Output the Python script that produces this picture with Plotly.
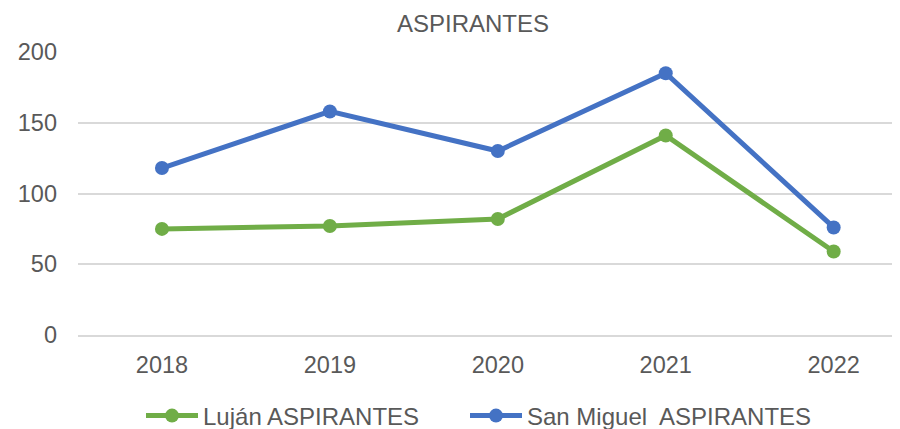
import plotly.graph_objects as go

years = ["2018", "2019", "2020", "2021", "2022"]
lujan = [75, 77, 82, 141, 59]
san_miguel = [118, 158, 130, 185, 76]
y_ticks = [0, 50, 100, 150, 200]

text_color = "#595959"
font_family = "Liberation Sans, Arial, sans-serif"
OFF = 8  # page body margin offset
W, H = 900 - OFF, 429 - OFF

fig = go.Figure()
fig.add_trace(go.Scatter(
    x=years, y=lujan, name="Luján ASPIRANTES", mode="lines+markers",
    line=dict(color="#70AD47", width=5),
    marker=dict(color="#70AD47", size=14),
    legend="legend",
))
fig.add_trace(go.Scatter(
    x=years, y=san_miguel, name="San Miguel  ASPIRANTES", mode="lines+markers",
    line=dict(color="#4472C4", width=5),
    marker=dict(color="#4472C4", size=14),
    legend="legend2",
))

legend_common = dict(orientation="h", xref="container", xanchor="left",
                     y=1 - (416 - OFF) / H, yref="container", yanchor="middle",
                     font=dict(size=24, color=text_color, family=font_family),
                     itemwidth=52, bgcolor="rgba(0,0,0,0)")

fig.update_layout(
    width=W, height=H,
    margin=dict(l=78 - OFF, r=0, t=52 - OFF, b=H - (335 - OFF), autoexpand=False),
    paper_bgcolor="white", plot_bgcolor="white",
    font=dict(family=font_family, size=23.5, color=text_color),
    title=dict(text="ASPIRANTES", x=(473 - OFF) / W, xref="container", xanchor="center",
               y=1 - (24 - OFF) / H, yref="container", yanchor="middle",
               font=dict(size=24, color=text_color)),
    legend=dict(x=(141 - OFF) / W, **legend_common),
    legend2=dict(x=(465 - OFF) / W, **legend_common),
    showlegend=True,
)
fig.update_xaxes(type="category", range=[-0.5, 4.395], showgrid=False,
                 showline=True, linecolor="#d9d9d9", linewidth=2,
                 ticks="", ticklabelstandoff=8, zeroline=False, automargin=False)
fig.update_yaxes(range=[0, 200], tickvals=y_ticks, showgrid=True,
                 gridcolor="#d9d9d9", gridwidth=2, zeroline=False,
                 showline=False, ticks="", ticklabelstandoff=20, automargin=False)

fig.write_html("out.html")
